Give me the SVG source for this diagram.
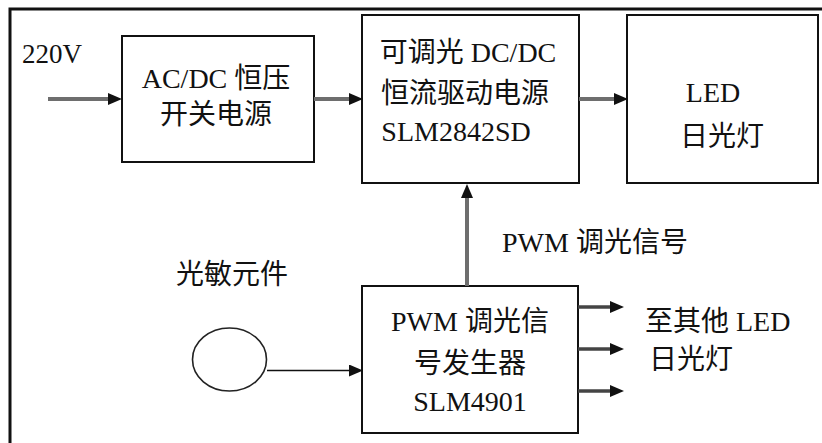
<svg xmlns="http://www.w3.org/2000/svg" width="822" height="443" viewBox="0 0 822 443">
<style>
.box{fill:#fff;stroke:#111;stroke-width:2}
.t{font-family:"Liberation Serif","Noto Sans CJK SC",serif;font-size:28px;fill:#111}
.m{text-anchor:middle}
.g{stroke:#6e6e6e;stroke-width:4;fill:none}
.k{stroke:#111;stroke-width:1.6;fill:none}
.d{stroke:#444;stroke-width:3.5;fill:none}
</style>
<defs>
<marker id="ah" viewBox="0 0 14 12" refX="0" refY="6" markerWidth="14" markerHeight="12" markerUnits="userSpaceOnUse" orient="auto">
<path d="M0,0 L14,6 L0,12 z" fill="#111"/>
</marker>
</defs>
<rect width="822" height="443" fill="#fff"/>
<path d="M10,443 V9 H822" fill="none" stroke="#111" stroke-width="3"/>
<text class="t" x="22" y="63" style="font-size:27px">220V</text>
<text class="t" x="176" y="284">光敏元件</text>
<text class="t" x="502" y="252">PWM 调光信号</text>
<text class="t" x="645" y="331">至其他 LED</text>
<text class="t" x="649" y="369">日光灯</text>
<g id="acdc">
<rect class="box" x="122" y="36" width="192" height="126"/>
<text class="t m" x="216" y="88">AC/DC 恒压</text>
<text class="t m" x="216" y="124">开关电源</text>
</g>
<g id="dcdc">
<rect class="box" x="362" y="15" width="217" height="168"/>
<text class="t m" x="468" y="62">可调光 DC/DC</text>
<text class="t m" x="465" y="103">恒流驱动电源</text>
<text class="t m" x="456" y="141">SLM2842SD</text>
</g>
<g id="led">
<rect class="box" x="627" y="15" width="191" height="168"/>
<text class="t m" x="713" y="102">LED</text>
<text class="t m" x="722" y="146">日光灯</text>
</g>
<g id="pwm">
<rect class="box" x="362" y="286" width="216" height="147"/>
<text class="t m" x="470" y="331">PWM 调光信</text>
<text class="t m" x="470" y="373">号发生器</text>
<text class="t m" x="470" y="411">SLM4901</text>
</g>
<g id="sensor">
<ellipse cx="229.5" cy="359.5" rx="37" ry="31.5" fill="#fff" stroke="#222" stroke-width="1.6"/>
</g>
<g id="connectors">
<line class="g" x1="48" y1="99" x2="108" y2="99" marker-end="url(#ah)"/>
<line class="g" x1="314" y1="99" x2="349" y2="99" marker-end="url(#ah)"/>
<line class="g" x1="579" y1="99" x2="614" y2="99" marker-end="url(#ah)"/>
<line class="g" x1="467" y1="286" x2="467" y2="198" marker-end="url(#ah)"/>
<line class="k" x1="267" y1="370.5" x2="349" y2="370.5" marker-end="url(#ah)"/>
<line class="d" x1="578" y1="307" x2="610" y2="307" marker-end="url(#ah)"/>
<line class="d" x1="578" y1="349" x2="610" y2="349" marker-end="url(#ah)"/>
<line class="d" x1="578" y1="391" x2="610" y2="391" marker-end="url(#ah)"/>
</g>
</svg>
